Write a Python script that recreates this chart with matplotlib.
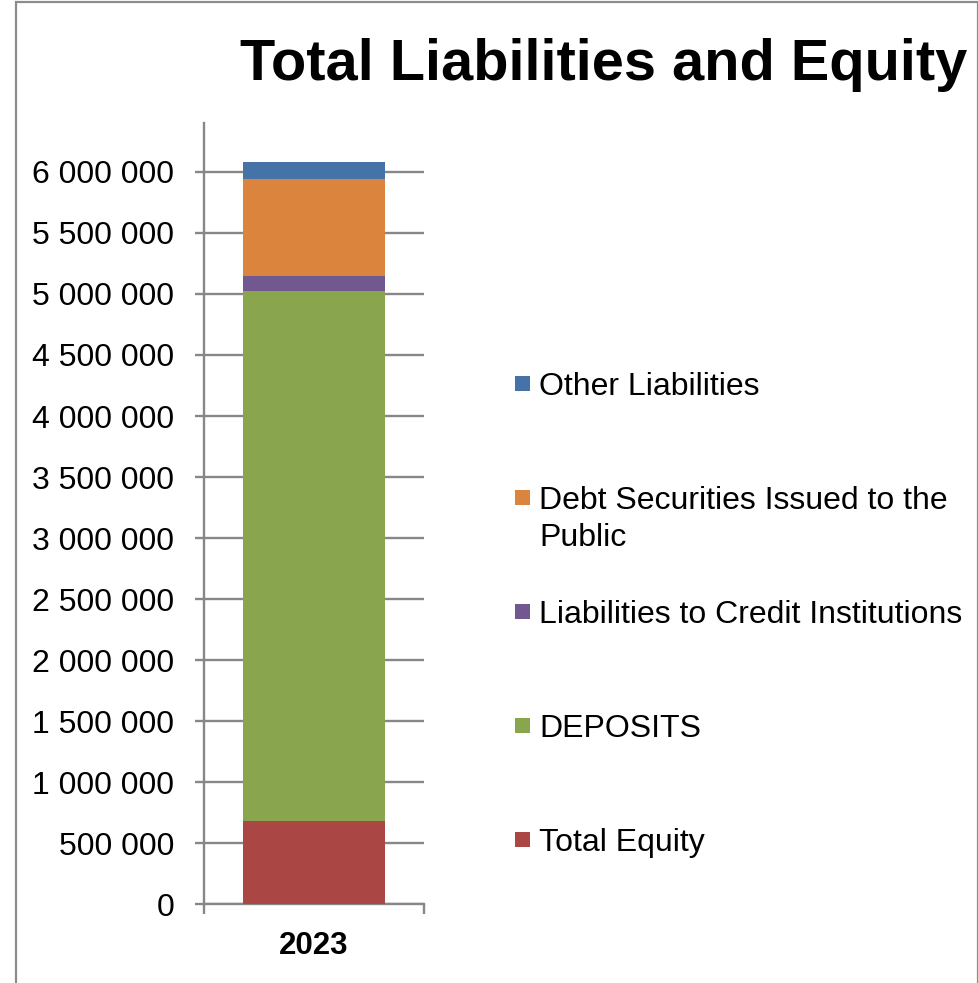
import matplotlib
matplotlib.use("Agg")
import matplotlib.pyplot as plt
from matplotlib.patches import Rectangle
from matplotlib.ticker import FuncFormatter, MultipleLocator

plt.rcParams["font.family"] = ["Liberation Sans", "DejaVu Sans"]

# ── data ──────────────────────────────────────────────────────────────────
year = "2023"
series = [
    "Total Equity",
    "DEPOSITS",
    "Liabilities to Credit Institutions",
    "Debt Securities Issued to the\nPublic",
    "Other Liabilities",
]
values = [680_000, 4_341_000, 127_000, 795_000, 139_000]
colors = ["#AA4643", "#89A54E", "#71588F", "#DB843D", "#4572A7"]

GRID = "#878787"
W, H = 979, 983


def fx(x):
    return x / W


def fy(y):
    return 1 - y / H


fig = plt.figure(figsize=(W / 100, H / 100), dpi=100, facecolor="white")

# outer chart frame (left, top, right edges)
fig.add_artist(Rectangle((fx(16), fy(1020)), fx(978) - fx(16), fy(2) - fy(1020),
                         transform=fig.transFigure, facecolor="none",
                         edgecolor="#8C8C8C", lw=1.6))

ax = fig.add_axes([fx(204), fy(904.3), fx(424) - fx(204), fy(122.7) - fy(904.3)])

bottom = 0
for name, val, col in zip(series, values, colors):
    ax.bar(0, val, bottom=bottom, width=0.648, color=col, zorder=3)
    bottom += val

ax.set_xlim(-0.5, 0.5)
ax.set_ylim(0, 6_403_000)
ax.yaxis.set_major_locator(MultipleLocator(500_000))
ax.yaxis.set_major_formatter(FuncFormatter(lambda v, p: f"{v:,.0f}".replace(",", " ")))
ax.grid(axis="y", color=GRID, lw=1.7, zorder=1)

for s in ["top", "right"]:
    ax.spines[s].set_visible(False)
for s in ["left", "bottom"]:
    ax.spines[s].set_color(GRID)
    ax.spines[s].set_linewidth(1.7)

ax.tick_params(axis="y", direction="out", length=6.5, width=1.7, color=GRID,
               pad=15, labelsize=23)
ax.set_xticks([0])
ax.set_xticklabels([year], fontsize=22.5, fontweight="bold")
ax.tick_params(axis="x", which="major", length=0, pad=19)
ax.set_xticks([-0.5, 0.5], minor=True)
ax.tick_params(axis="x", which="minor", direction="out", length=7, width=1.7, color=GRID)

# title
fig.text(fx(604), fy(80), "Total Liabilities and Equity", ha="center", va="baseline",
         fontsize=41.6, fontweight="bold")

# legend, top entry first
base = 395
for i, (name, col) in enumerate(zip(series[::-1], colors[::-1])):
    yb = base + 114 * i
    fig.add_artist(Rectangle((fx(515), fy(yb - 4)), fx(15), 15 / H,
                             transform=fig.transFigure, facecolor=col, edgecolor="none"))
    for j, line in enumerate(name.split("\n")):
        fig.text(fx(539), fy(yb + 36.5 * j), line, ha="left", va="baseline", fontsize=23)

fig.savefig("out.png", dpi=100, facecolor="white")
